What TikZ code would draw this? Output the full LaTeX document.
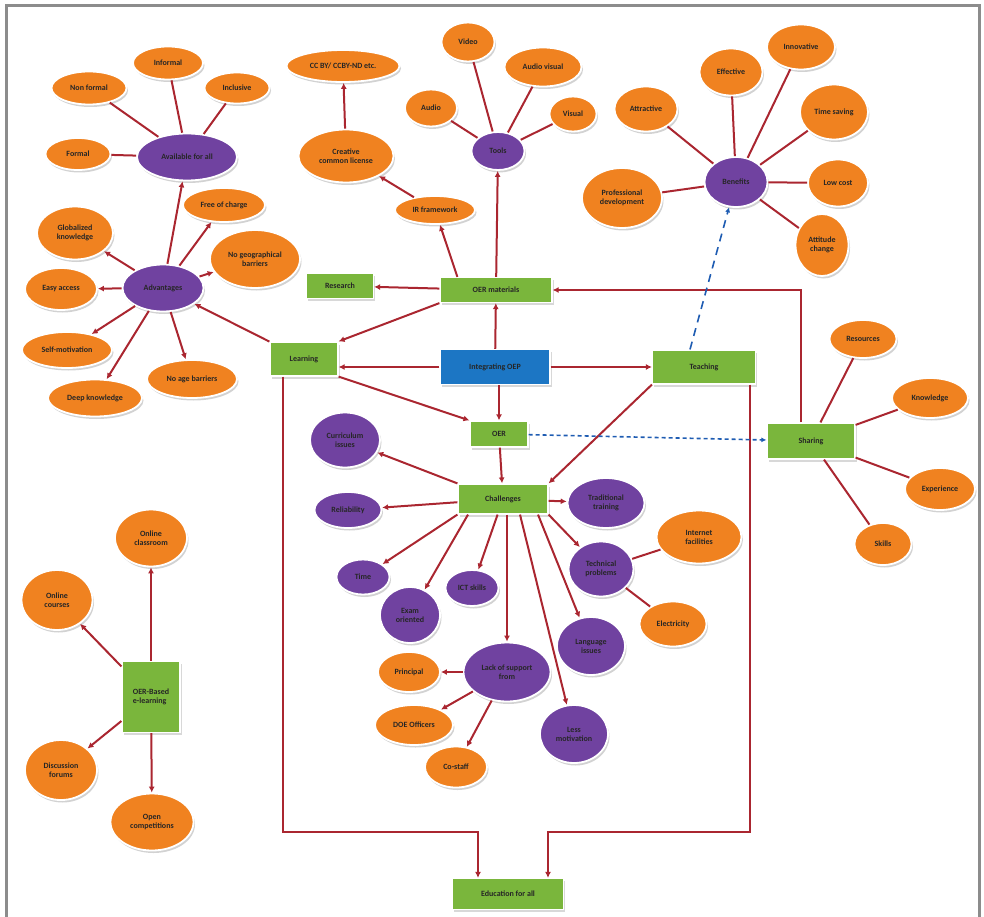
\documentclass[tikz,border=0pt]{standalone}
\usepackage{fontspec}
\setmainfont{Carlito}
\usetikzlibrary{arrows.meta,shapes.geometric,shadows}
\definecolor{oerorange}{RGB}{240,130,32}
\definecolor{oerpurple}{RGB}{112,66,160}
\definecolor{oergreen}{RGB}{122,182,60}
\definecolor{oerblue}{RGB}{28,118,196}
\definecolor{linkred}{RGB}{170,38,48}
\definecolor{dashblue}{RGB}{30,92,178}
\definecolor{framegray}{RGB}{140,140,140}
\tikzset{
  every node/.style={font=\fontsize{8}{9}\selectfont\bfseries, text=black!85, align=center, inner sep=1pt},
  wh/.style 2 args={minimum width=#1pt, minimum height=#2pt},
  bubble/.style={ellipse, draw=white, line width=1.8pt,
    drop shadow={shadow xshift=1.5pt, shadow yshift=-2.5pt, fill=black!35}},
  org/.style={bubble, fill=oerorange},
  pur/.style={bubble, fill=oerpurple},
  greenbox/.style={rectangle, fill=oergreen, draw=white, line width=1.2pt,
    drop shadow={shadow xshift=1.5pt, shadow yshift=-2.5pt, fill=black!30}},
  bluebox/.style={greenbox, fill=oerblue},
  link/.style={color=linkred, line width=2pt, -{Latex[length=6pt,width=6pt]}},
  spoke/.style={color=linkred, line width=2pt},
  dashlink/.style={color=dashblue, line width=1.6pt, dash pattern=on 4pt off 3pt, -{Latex[length=5pt,width=5pt]}}
}
\begin{document}
\begin{tikzpicture}[x=1pt, y=-1pt]
  \useasboundingbox (0,0) rectangle (984,917);
  \draw[framegray, line width=3pt] (6,917) -- (6,6) -- (979,6) -- (979,917);

  % boxes
  \node[greenbox, wh={112}{25}] (omat) at (496,290) {OER materials};
  \node[greenbox, wh={67}{25}] (res) at (340,286) {Research};
  \node[greenbox, wh={68}{34}] (learn) at (304,359) {Learning};
  \node[bluebox, wh={110}{35}] (integ) at (495,367) {Integrating OEP};
  \node[greenbox, wh={103}{34}] (teach) at (704,367) {Teaching};
  \node[greenbox, wh={58}{26}] (oer) at (499,434) {OER};
  \node[greenbox, wh={88}{36}] (share) at (811,441) {Sharing};
  \node[greenbox, wh={90}{30}] (chal) at (503,499) {Challenges};
  \node[greenbox, wh={58}{71}, align=left] (elearn) at (151,697) {OER-Based\\e-learning};
  \node[greenbox, wh={111}{31}] (edu) at (508,894) {Education for all};

  % available for all
  \node[pur, wh={100}{47}] (avail) at (187,157) {Available for all};
  \node[org, wh={75}{33}] (nonf) at (89,88) {Non formal};
  \node[org, wh={70}{33}] (inf) at (168,63) {Informal};
  \node[org, wh={65}{31}] (incl) at (237,88) {Inclusive};
  \node[org, wh={65}{32}] (form) at (78,154) {Formal};

  % advantages
  \node[pur, wh={81}{47}] (adv) at (163,288) {Advantages};
  \node[org, wh={82}{34}] (free) at (224,205) {Free of charge};
  \node[org, wh={90}{58}] (geo) at (255,259) {No geographical\\barriers};
  \node[org, wh={76}{53}] (glob) at (75,233) {Globalized\\knowledge};
  \node[org, wh={72}{42}] (easy) at (61,289) {Easy access};
  \node[org, wh={90}{36}] (self) at (67,350) {Self-motivation};
  \node[org, wh={90}{38}] (age) at (192,379) {No age barriers};
  \node[org, wh={94}{37}] (deep) at (95,398) {Deep knowledge};

  % licence
  \node[org, wh={113}{32}] (ccby) at (343,66) {CC BY/ CCBY-ND etc.};
  \node[org, wh={95}{53}] (ccl) at (346,156) {Creative\\common license};
  \node[org, wh={80}{28}] (irf) at (435,210) {IR framework};

  % tools
  \node[pur, wh={53}{38}] (tools) at (498,151) {Tools};
  \node[org, wh={52}{37}] (audio) at (431,108) {Audio};
  \node[org, wh={53}{39}] (video) at (468,42) {Video};
  \node[org, wh={77}{39}] (avis) at (543,67) {Audio visual};
  \node[org, wh={47}{35}] (visual) at (573,114) {Visual};

  % benefits
  \node[pur, wh={63}{50}] (ben) at (736,182) {Benefits};
  \node[org, wh={63}{45}] (attr) at (646,109) {Attractive};
  \node[org, wh={63}{47}] (eff) at (731,72) {Effective};
  \node[org, wh={68}{45}] (innov) at (801,47) {Innovative};
  \node[org, wh={68}{55}] (time) at (834,112) {Time saving};
  \node[org, wh={60}{47}] (low) at (838,183) {Low cost};
  \node[org, wh={53}{62}] (att) at (822,245) {Attitude\\change};
  \node[org, wh={80}{60}] (prof) at (622,198) {Professional\\development};

  % sharing
  \node[org, wh={67}{38}] (resrc) at (863,339) {Resources};
  \node[org, wh={76}{40}] (know) at (930,398) {Knowledge};
  \node[org, wh={70}{42}] (exp) at (940,489) {Experience};
  \node[org, wh={57}{42}] (skills) at (883,544) {Skills};

  % challenges
  \node[pur, wh={70}{55}] (curr) at (345,440) {Curriculum\\issues};
  \node[pur, wh={67}{36}] (rel) at (348,510) {Reliability};
  \node[pur, wh={77}{50}] (trad) at (606,503) {Traditional\\training};
  \node[org, wh={85}{53}] (inet) at (699,537) {Internet\\facilities};
  \node[pur, wh={65}{55}] (tech) at (601,569) {Technical\\problems};
  \node[org, wh={67}{45}] (elec) at (673,624) {Electricity};
  \node[pur, wh={53}{35}] (tm) at (363,577) {Time};
  \node[pur, wh={53}{36}] (ict) at (472,588) {ICT skills};
  \node[pur, wh={60}{56}] (exam) at (410,615) {Exam\\oriented};
  \node[pur, wh={68}{58}] (lang) at (591,646) {Language\\issues};
  \node[pur, wh={87}{59}] (lack) at (507,672) {Lack of support\\from};
  \node[org, wh={62}{40}] (prin) at (409,672) {Principal};
  \node[org, wh={78}{40}] (doe) at (414,725) {DOE Officers};
  \node[org, wh={62}{41}] (cost) at (456,767) {Co-staff};
  \node[pur, wh={68}{58}] (lessm) at (574,734) {Less\\motivation};

  % e-learning
  \node[org, wh={72}{57}] (oclass) at (151,538) {Online\\classroom};
  \node[org, wh={71}{60}] (ocourse) at (57,600) {Online\\courses};
  \node[org, wh={72}{60}] (disc) at (61,770) {Discussion\\forums};
  \node[org, wh={83}{57}] (ocomp) at (152,822) {Open\\competitions};

  \begin{scope}[spoke]
    \draw (avail) to (nonf);
    \draw (avail) to (inf);
    \draw (avail) to (incl);
    \draw (avail) to (form);
    \draw (tools) to (audio);
    \draw (tools) to (video);
    \draw (tools) to (avis);
    \draw (tools) to (visual);
    \draw (ben) to (attr);
    \draw (ben) to (eff);
    \draw (ben) to (innov);
    \draw (ben) to (time);
    \draw (ben) to (low);
    \draw (ben) to (att);
    \draw (ben) to (prof);
    \draw (share) to (resrc);
    \draw (share) to (know);
    \draw (share) to (exp);
    \draw (share) to (skills);
    \draw (tech) to (inet);
    \draw (tech) to (elec);
  \end{scope}

  \begin{scope}[link]
    \draw (adv) to (avail);
    \draw (adv) to (free);
    \draw (adv) to (geo);
    \draw (adv) to (glob);
    \draw (adv) to (easy);
    \draw (adv) to (self);
    \draw (adv) to (age);
    \draw (adv) to (deep);
    \draw (learn) to (adv);
    \draw (ccl) to (ccby);
    \draw (irf) to (ccl);
    \draw ([xshift=18pt]omat.north west) to (irf);
    \draw (omat) to (tools);
    \draw (omat) to (res);
    \draw (omat.south west) to (learn.north east);
    \draw (integ) to (omat);
    \draw (integ.west) to (integ.west -| learn.east);
    \draw (integ) to (teach);
    \draw (integ.south -| oer) to (oer);
    \draw (learn.south east) to (oer.north west);
    \draw (oer) to (chal);
    \draw (teach.south west) to (chal.north east);
    \draw ([xshift=-10pt]share.north) |- (omat.east);
    \draw ([xshift=-21pt]learn.south) -- ++(0,455) -| ([xshift=-30pt]edu.north);
    \draw ([xshift=46pt]teach.south) -- ++(0,447) -| ([xshift=40pt]edu.north);
    \draw (chal.north west) to (curr);
    \draw (chal) to (rel);
    \draw (chal) to (trad);
    \draw (chal.south east) to (tech);
    \draw (chal.south west) to (tm);
    \draw ([xshift=-35pt]chal.south) to (exam);
    \draw (chal) to (ict);
    \draw (chal.south -| lack) to (lack);
    \draw ([xshift=17pt]chal.south) to (lessm);
    \draw ([xshift=35pt]chal.south) to (lang);
    \draw (lack) to (prin);
    \draw (lack) to (doe);
    \draw (lack) to (cost);
    \draw (elearn) to (oclass);
    \draw (elearn) to (ocourse);
    \draw (elearn) to (disc);
    \draw (elearn) to (ocomp);
  \end{scope}

  \draw[dashlink, dash pattern=on 8pt off 6pt] ([xshift=-14pt]teach.north) to (ben);
  \draw[dashlink] (oer) to (share);
\end{tikzpicture}
\end{document}
